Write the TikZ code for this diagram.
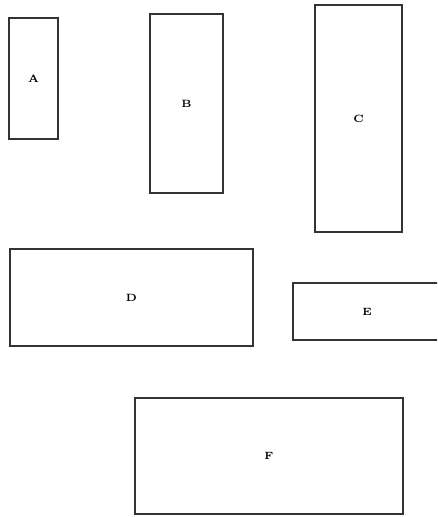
\documentclass[tikz,border=0pt]{standalone}
\usepackage{tikz}
\usetikzlibrary{positioning}

\tikzset{
  room/.style={draw=black!80, line width=1pt, inner sep=0pt,
    font=\fontsize{6}{7}\selectfont\bfseries}
}

\begin{document}
\begin{tikzpicture}[x=0.02cm, y=-0.02cm]
    \useasboundingbox (0,0) rectangle (437,517);
    \clip (0,0) rectangle (437,517);
    \node[room, minimum width=0.98cm, minimum height=2.42cm] (A) at (33.5,78.5) {A};
    \node[room, minimum width=1.46cm, minimum height=3.58cm] (B) at (186.5,103.5) {B};
    \node[room, minimum width=1.74cm, minimum height=4.54cm] (C) at (358.5,118.5) {C};
    \node[room, minimum width=4.86cm, minimum height=1.94cm] (D) at (131.5,297.5) {D};
    \node[room, minimum width=2.96cm, minimum height=1.14cm] (E) at (367,311.5) {E};
    \node[room, minimum width=5.36cm, minimum height=2.32cm] (F) at (269,456) {F};
  \end{tikzpicture}
\end{document}
